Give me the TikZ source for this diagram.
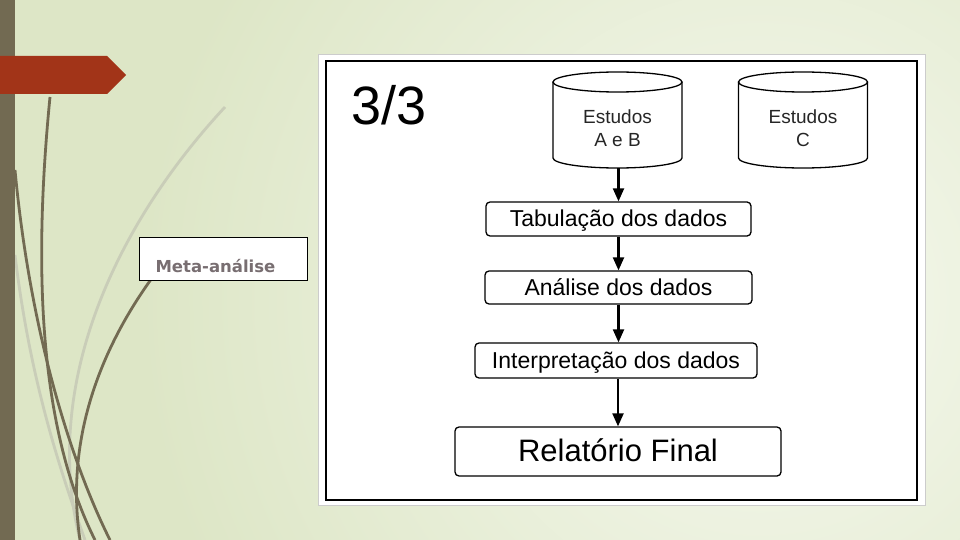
\documentclass[tikz,border=0pt]{standalone}
\usepackage{fontspec}
\setmainfont{Liberation Sans}
\newfontfamily\boxfont{DejaVu Sans}
\usetikzlibrary{arrows.meta}
\definecolor{bgA}{HTML}{DDE6C6}
\definecolor{bgB}{HTML}{F6F9EF}
\definecolor{olive}{HTML}{726A52}
\definecolor{banner}{HTML}{A23418}
\definecolor{lightline}{HTML}{C9CDB8}
\definecolor{metatext}{HTML}{786E71}
\tikzset{
  flowbox/.style={draw=black, line width=1.3pt, rounded corners=4pt, fill=white, inner sep=0pt, font=\fontsize{23}{26}\selectfont, text height=17pt, text depth=2pt},
  bigbox/.style={flowbox, font=\fontsize{31}{35}\selectfont, text height=23pt, text depth=3pt},
  flowarrow/.style={-{Triangle[length=13pt,width=11pt]}, line width=2.2pt, black},
  darkcurve/.style={draw=olive, line width=2.8pt},
  lightcurve/.style={draw=lightline, line width=2.8pt},
  cyltext/.style={font=\fontsize{19}{23}\selectfont, align=center, text=black!85}
}
\begin{document}
\begin{tikzpicture}[x=1pt,y=-1pt]
\useasboundingbox (0,0) rectangle (960,540);
% background
\fill[bgA] (0,0) rectangle (960,540);
\begin{scope}
\clip (0,0) rectangle (960,540);
\shade[inner color=bgB, outer color=bgA] (760,300) circle (620pt);
\end{scope}
% decorative curves
\draw[lightcurve] (225,107) .. controls (120,220) and (40,380) .. (80,540);
\draw[lightcurve] (15,255) .. controls (30,380) and (60,470) .. (85,540);
\draw[darkcurve] (50,97) .. controls (35,250) and (35,420) .. (95,540);
\draw[darkcurve] (15,170) .. controls (30,330) and (70,460) .. (110,540);
\draw[darkcurve] (152,278) .. controls (100,350) and (65,440) .. (80,540);
% left bar
\fill[olive] (0,0) rectangle (15,540);
% banner
\fill[banner] (0,56) -- (107,56) -- (126,75) -- (107,94) -- (0,94) -- cycle;
% Meta-analise box
\node[draw=black, line width=0.8pt, fill=white, minimum width=168pt, minimum height=43pt, inner sep=0pt] (meta) at (223,258.5) {};
\node[anchor=west, font=\boxfont\bfseries\fontsize{16.5}{20}\selectfont, text=metatext] (metalabel) at (152,266) {Meta-análise};
% picture frame
\draw[fill=white, draw=black!20, line width=0.8pt] (318,54) rectangle (925,505);
\draw[black, line width=1.6pt] (326,61) rectangle (917,500);
\node[anchor=west, font=\fontsize{54}{60}\selectfont] (title) at (348,105) {3/3};
% cylinders
\foreach \cx in {617.5, 803}{
  \draw[black, line width=1.3pt, fill=white] (\cx-64.5,82) -- (\cx-64.5,158) arc[start angle=180, end angle=360, x radius=64.5, y radius=-10] -- (\cx+64.5,82);
  \draw[black, line width=1.3pt] (\cx,82) ellipse [x radius=64.5, y radius=10];
}
\node[minimum width=129pt, minimum height=96pt] (cylA) at (617.5,120) {};
\node[minimum width=129pt, minimum height=96pt] (cylC) at (803,120) {};
\node[cyltext] (cylAtext) at (617.5,128) {Estudos\\A e B};
\node[cyltext] (cylCtext) at (803,128) {Estudos\\C};
% flow boxes
\node[flowbox, minimum width=265pt, minimum height=34pt] (tab) at (618.5,219) {Tabulação dos dados};
\node[flowbox, minimum width=267pt, minimum height=33pt] (ana) at (618.5,287.5) {Análise dos dados};
\node[flowbox, minimum width=282pt, minimum height=35pt] (int) at (616,360.5) {Interpretação dos dados};
\node[bigbox, minimum width=326pt, minimum height=49pt] (rel) at (618,451.5) {Relatório Final};
% arrows
\draw[flowarrow] (cylA.south -| tab.north) -- (tab.north);
\draw[flowarrow] (tab.south) -- (ana.north);
\draw[flowarrow] (ana.south) -- (ana.south |- int.north);
\draw[flowarrow] (int.south -| rel.north) -- (rel.north);
\end{tikzpicture}
\end{document}
